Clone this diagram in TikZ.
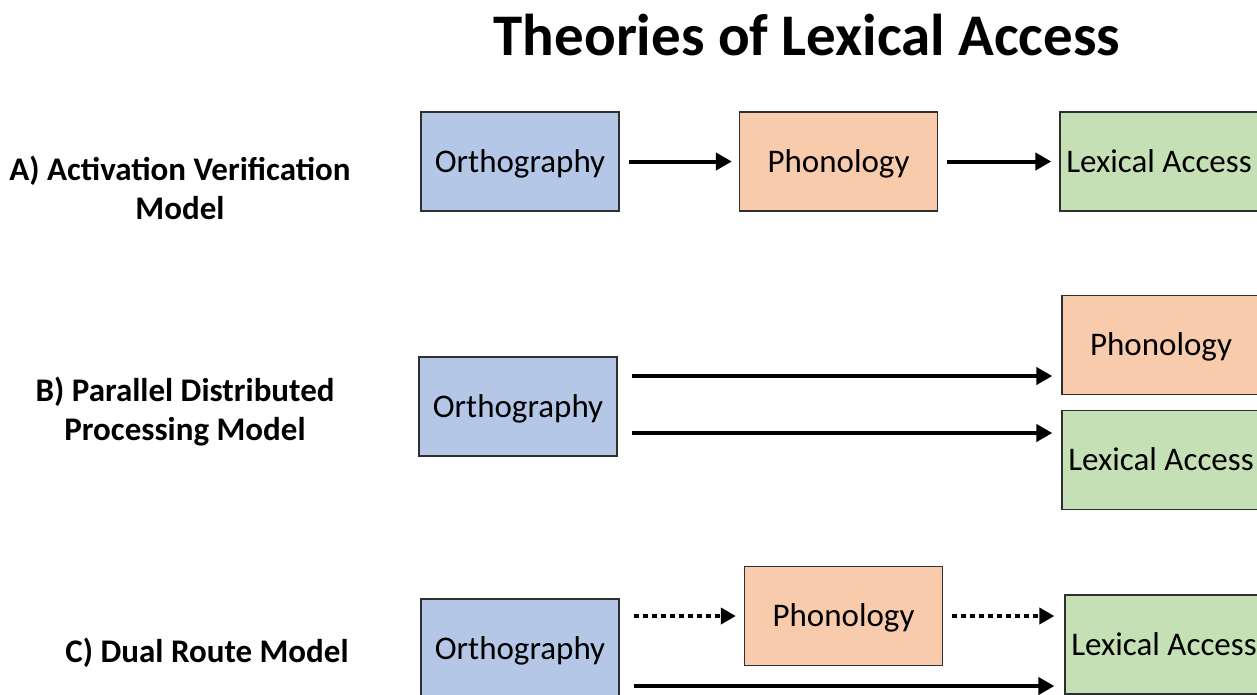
\documentclass[tikz,border=0pt]{standalone}
\usepackage{fontspec}
\setmainfont{Carlito}
\usetikzlibrary{arrows.meta}
\definecolor{boxblue}{HTML}{B4C7E7}
\definecolor{boxorange}{HTML}{F8CBAD}
\definecolor{boxgreen}{HTML}{C5E0B4}
\definecolor{boxline}{HTML}{2F2F2F}
\tikzset{
  stagebox/.style={draw=boxline, line width=1.3pt, minimum width=198pt, minimum height=99pt, inner sep=0pt, text height=27pt, text depth=6pt, font=\fontsize{33}{38}\selectfont},
  ortho/.style={stagebox, fill=boxblue},
  phono/.style={stagebox, fill=boxorange},
  lexic/.style={stagebox, fill=boxgreen},
  modellabel/.style={align=center, font=\bfseries\fontsize{33}{39}\selectfont},
  flow/.style={line width=4pt, -{Triangle[length=16pt,width=17pt]}},
  dotflow/.style={line width=4.5pt, dash pattern=on 5pt off 4pt, -{Triangle[length=15pt,width=16pt]}}
}
\begin{document}
\begin{tikzpicture}[x=1pt,y=-1pt]
\useasboundingbox (0,0) rectangle (1257,694);
\clip (0,0) rectangle (1257,694);
\fill[white] (0,0) rectangle (1257,694);

\node[font=\bfseries\fontsize{59}{64}\selectfont] (title) at (807,35) {Theories of Lexical Access};

% Row A
\node[modellabel] (labA) at (180,188) {A) Activation Verification\\Model};
\node[ortho] (orthA) at (520,161.5) {Orthography};
\node[phono] (phonA) at (838.5,161.5) {Phonology};
\node[lexic] (lexA) at (1159,161.5) {Lexical Access};
\draw[flow] ([xshift=9pt]orthA.east) -- ([xshift=-7pt]phonA.west);
\draw[flow] ([xshift=9pt]phonA.east) -- ([xshift=-8pt]lexA.west);

% Row B
\node[modellabel] (labB) at (185,412) {B) Parallel Distributed\\Processing Model};
\node[ortho] (orthB) at (518,406.5) {Orthography};
\node[phono] (phonB) at (1161,345) {Phonology};
\node[lexic] (lexB) at (1161,460) {Lexical Access};
\draw[flow] ([xshift=14pt,yshift=30.5pt]orthB.east) -- ([xshift=-9pt,yshift=-31pt]phonB.west);
\draw[flow] ([xshift=14pt,yshift=-26.5pt]orthB.east) -- ([xshift=-9pt,yshift=27pt]lexB.west);

% Row C
\node[modellabel] (labC) at (207,653) {C) Dual Route Model};
\node[ortho] (orthC) at (520,648.5) {Orthography};
\node[phono] (phonC) at (843.5,616) {Phonology};
\node[lexic] (lexC) at (1164,644.5) {Lexical Access};
\draw[dotflow] ([xshift=14pt]orthC.east |- phonC.west) -- ([xshift=-8pt]phonC.west);
\draw[dotflow] ([xshift=9pt]phonC.east) -- ([xshift=-10pt]lexC.west |- phonC.east);
\draw[flow] ([xshift=14pt,yshift=-37.5pt]orthC.east) -- ([xshift=-10pt,yshift=-41.5pt]lexC.west);
\end{tikzpicture}
\end{document}
